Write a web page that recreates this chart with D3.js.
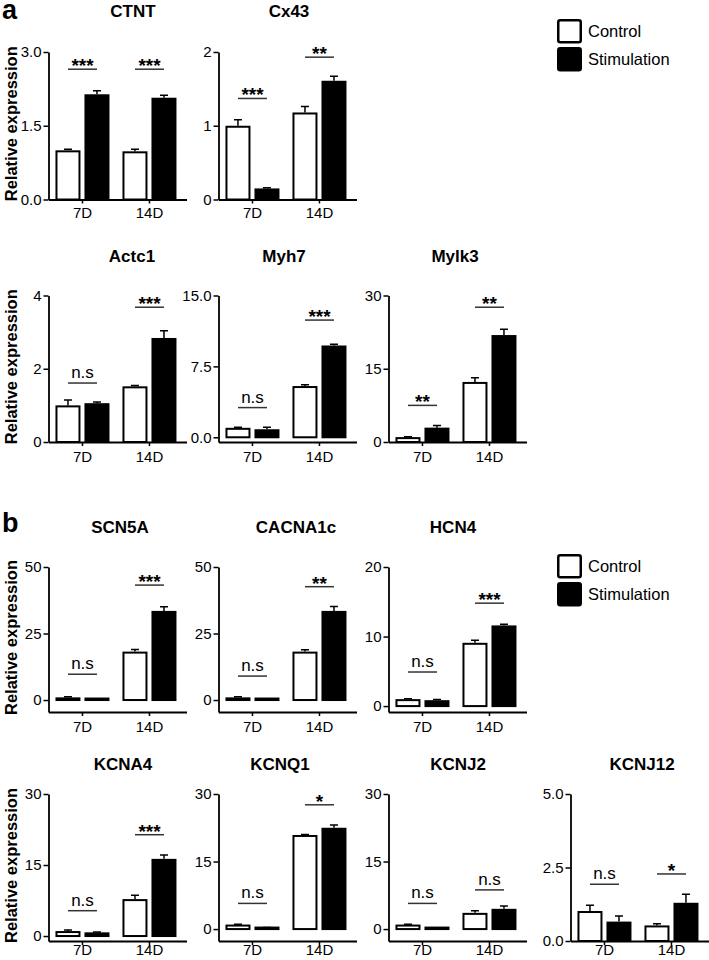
<!DOCTYPE html>
<html lang="en">
<head>
    <meta charset="UTF-8">
    <title>Relative expression</title>
    <script src="https://d3js.org/d3.v7.min.js"></script>
    <style>
        body {
            margin: 0;
            background-color: #fff;
        }
        svg text {
            font-family: "Liberation Sans", Arial, sans-serif;
            fill: #000;
        }
        .bar-ctrl { fill: #fff; stroke: #000; stroke-width: 2px; }
        .bar-stim { fill: #000; stroke: #000; stroke-width: 2px; }
        .err { stroke: #000; stroke-width: 1.5px; fill: none; }
        .sig { stroke: #333; stroke-width: 1.5px; }
    </style>
</head>
<body>
    <svg width="709" height="960"></svg>

    <script>
        // 데이터
        const genes = ["CTNT", "Cx43", "Actc1", "Myh7", "Mylk3", "SCN5A", "CACNA1c", "HCN4", "KCNA4", "KCNQ1", "KCNJ2", "KCNJ12"];
        const groups = ["7D", "14D"];
        const series = ["Control", "Stimulation"];

        const ctrlMean = [[1.00, 0.98], [1.00, 1.18], [1.00, 1.52], [1.00, 5.42], [1.00, 12.3], [1.00, 18.2],
                          [1.00, 18.2], [1.00, 9.1], [1.05, 7.8], [1.00, 20.9], [1.00, 3.6], [1.02, 0.53]];
        const ctrlErr  = [[0.02, 0.04], [0.08, 0.08], [0.15, 0.02], [0.05, 0.14], [0.1, 0.85], [0.25, 0.8],
                          [0.25, 0.7], [0.05, 0.35], [0.2, 0.8], [0.05, 0.1], [0.05, 0.45], [0.2, 0.06]];
        const stimMean = [[2.14, 2.07], [0.15, 1.61], [1.06, 2.84], [0.85, 9.71], [2.94, 21.9], [0.1, 33.5],
                          [0.1, 33.5], [0.85, 11.6], [0.78, 16.3], [0.3, 22.5], [0.05, 4.5], [0.66, 1.3]];
        const stimErr  = [[0.07, 0.05], [0.01, 0.06], [0.03, 0.2], [0.2, 0.12], [0.45, 1.2], [0.05, 1.6],
                          [0.05, 1.7], [0.1, 0.15], [0.05, 0.8], [0.05, 0.6], [0.05, 0.6], [0.19, 0.29]];

        const sigText  = [["***", "***"], ["***", "**"], ["n.s", "***"], ["n.s", "***"], ["**", "**"], ["n.s", "***"],
                          ["n.s", "**"], ["n.s", "***"], ["n.s", "***"], ["n.s", "*"], ["n.s", "n.s"], ["n.s", "*"]];
        const sigLevel = [[2.65, 2.65], [1.37, 1.93], [1.61, 3.68], [3.14, 12.4], [7.5, 27.6], [9.7, 43.2],
                          [9.0, 42.6], [4.9, 14.8], [5.35, 21.4], [5.7, 27.6], [5.7, 8.7], [1.93, 2.28]];

        const yMax = [3, 2, 4, 15, 30, 50, 50, 20, 30, 30, 30, 5];
        const yMin = [0, 0, 0, -0.5, 0, -4.5, -4.5, -0.85, -1.05, -2.65, -2.65, 0];
        const tickDecimals = [1, 0, 0, 1, 0, 0, 0, 0, 0, 0, 0, 1];

        // 레이아웃
        const panelRow = [0, 0, 1, 1, 1, 2, 2, 2, 3, 3, 3, 3];
        const panelCol = [0, 1, 0, 1, 2, 0, 1, 2, 0, 1, 2, 3];
        const titleX = [133, 289, 132, 284, 455, 120, 296, 453, 123, 280, 458, 642];
        const colX = [48.5, 218.5, 388.5, 570.5];
        const rows = [
            { top: 52, axis: 199.5, title: 17, xlab: 18.5 },
            { top: 295.5, axis: 442, title: 262, xlab: 19.5 },
            { top: 567, axis: 712, title: 533, xlab: 20 },
            { top: 794, axis: 941, title: 770, xlab: 13.5 }
        ];
        const axisLen = 138;

        const svg = d3.select("svg");

        genes.forEach((gene, i) => {
            const row = rows[panelRow[i]];
            const ax = colX[panelCol[i]];
            const g = svg.append("g");

            const y = d3.scaleLinear().domain([yMin[i], yMax[i]]).range([row.axis, row.top]);
            const x0 = d3.scaleBand().domain(groups)
                .range([ax, ax + axisLen])
                .paddingInner(13 / 67)
                .paddingOuter(17 / 2 / 67)
                .align(0.41);
            const x1 = d3.scaleBand().domain(series).range([0, x0.bandwidth()]).paddingInner(0.138);

            // y축
            const fmt = d3.format("." + tickDecimals[i] + "f");
            const yAxis = g.append("g")
                .attr("transform", `translate(${ax},0)`)
                .call(d3.axisLeft(y).tickValues([0, yMax[i] / 2, yMax[i]]).tickFormat(fmt)
                    .tickSize(5).tickPadding(2).tickSizeOuter(0));
            yAxis.select(".domain").attr("stroke-width", 1.8);
            yAxis.selectAll(".tick line").attr("stroke-width", 1.5);
            yAxis.selectAll("text").attr("font-size", 15).attr("font-family", null);

            // x축
            const xAxis = g.append("g")
                .attr("transform", `translate(0,${row.axis})`)
                .call(d3.axisBottom(x0).tickSize(4).tickPadding(row.xlab - 10.65 - 4).tickSizeOuter(0));
            xAxis.select(".domain").attr("stroke-width", 1.8);
            xAxis.selectAll(".tick line").attr("stroke-width", 1.5);
            xAxis.selectAll("text").attr("font-size", 15).attr("font-family", null);

            // 막대
            const bars = groups.flatMap((grp, j) => [
                { grp, s: "Control", v: ctrlMean[i][j], e: ctrlErr[i][j], cls: "bar-ctrl" },
                { grp, s: "Stimulation", v: stimMean[i][j], e: stimErr[i][j], cls: "bar-stim" }
            ]);

            g.append("g").selectAll("rect")
                .data(bars)
                .join("rect")
                .attr("class", d => d.cls)
                .attr("x", d => x0(d.grp) + x1(d.s) + 1)
                .attr("width", x1.bandwidth() - 2)
                .attr("y", d => Math.min(y(d.v) + 1, y(0) - 1.5))
                .attr("height", d => Math.max(1.5, y(0) - y(d.v) - 1));

            // 에러바 (위쪽만)
            const cap = 4;
            g.append("g").selectAll("path")
                .data(bars)
                .join("path")
                .attr("class", "err")
                .attr("d", d => {
                    const cx = x0(d.grp) + x1(d.s) + x1.bandwidth() / 2;
                    const top = y(d.v + d.e);
                    return `M${cx},${y(d.v)}V${top}M${cx - cap},${top}H${cx + cap}`;
                });

            // 유의성 표시
            groups.forEach((grp, j) => {
                const xa = x0(grp) + x1("Control") + x1.bandwidth() / 2;
                const xb = x0(grp) + x1("Stimulation") + x1.bandwidth() / 2;
                const ly = y(sigLevel[i][j]);
                g.append("line").attr("class", "sig")
                    .attr("x1", xa).attr("x2", xb).attr("y1", ly).attr("y2", ly);
                const isStar = sigText[i][j] !== "n.s";
                g.append("text")
                    .attr("x", x0(grp) + x0.bandwidth() / 2)
                    .attr("y", isStar ? ly + 3 : ly - 5)
                    .attr("text-anchor", "middle")
                    .attr("font-size", isStar ? 19 : 17)
                    .attr("font-weight", isStar ? "bold" : "normal")
                    .text(sigText[i][j]);
            });

            // 제목
            g.append("text")
                .attr("x", titleX[i])
                .attr("y", row.title)
                .attr("text-anchor", "middle")
                .attr("font-size", 17)
                .attr("font-weight", "bold")
                .text(gene);

            // y축 라벨
            if (panelCol[i] === 0) {
                g.append("text")
                    .attr("transform", `translate(17,${(row.top + row.axis) / 2 - 2}) rotate(-90)`)
                    .attr("text-anchor", "middle")
                    .attr("font-size", 16.5)
                    .attr("font-weight", "bold")
                    .text("Relative expression");
            }
        });

        // 범례
        [19, 554].forEach(ly => {
            const lg = svg.append("g").attr("transform", `translate(557,${ly})`);
            series.forEach((s, k) => {
                lg.append("rect")
                    .attr("x", 1.25).attr("y", k * 28 + 1.25)
                    .attr("width", 22.5).attr("height", 22)
                    .attr("rx", 2)
                    .attr("fill", k === 0 ? "#fff" : "#000")
                    .attr("stroke", "#000")
                    .attr("stroke-width", 2.5);
                lg.append("text")
                    .attr("x", 31).attr("y", k * 28 + 12)
                    .attr("dy", "0.35em")
                    .attr("font-size", 16.5)
                    .text(s);
            });
        });

        // 패널 문자
        svg.append("text").attr("x", 2).attr("y", 19).attr("font-size", 27).attr("font-weight", "bold").text("a");
        svg.append("text").attr("x", 2).attr("y", 532).attr("font-size", 27).attr("font-weight", "bold").text("b");
    </script>
</body>
</html>
